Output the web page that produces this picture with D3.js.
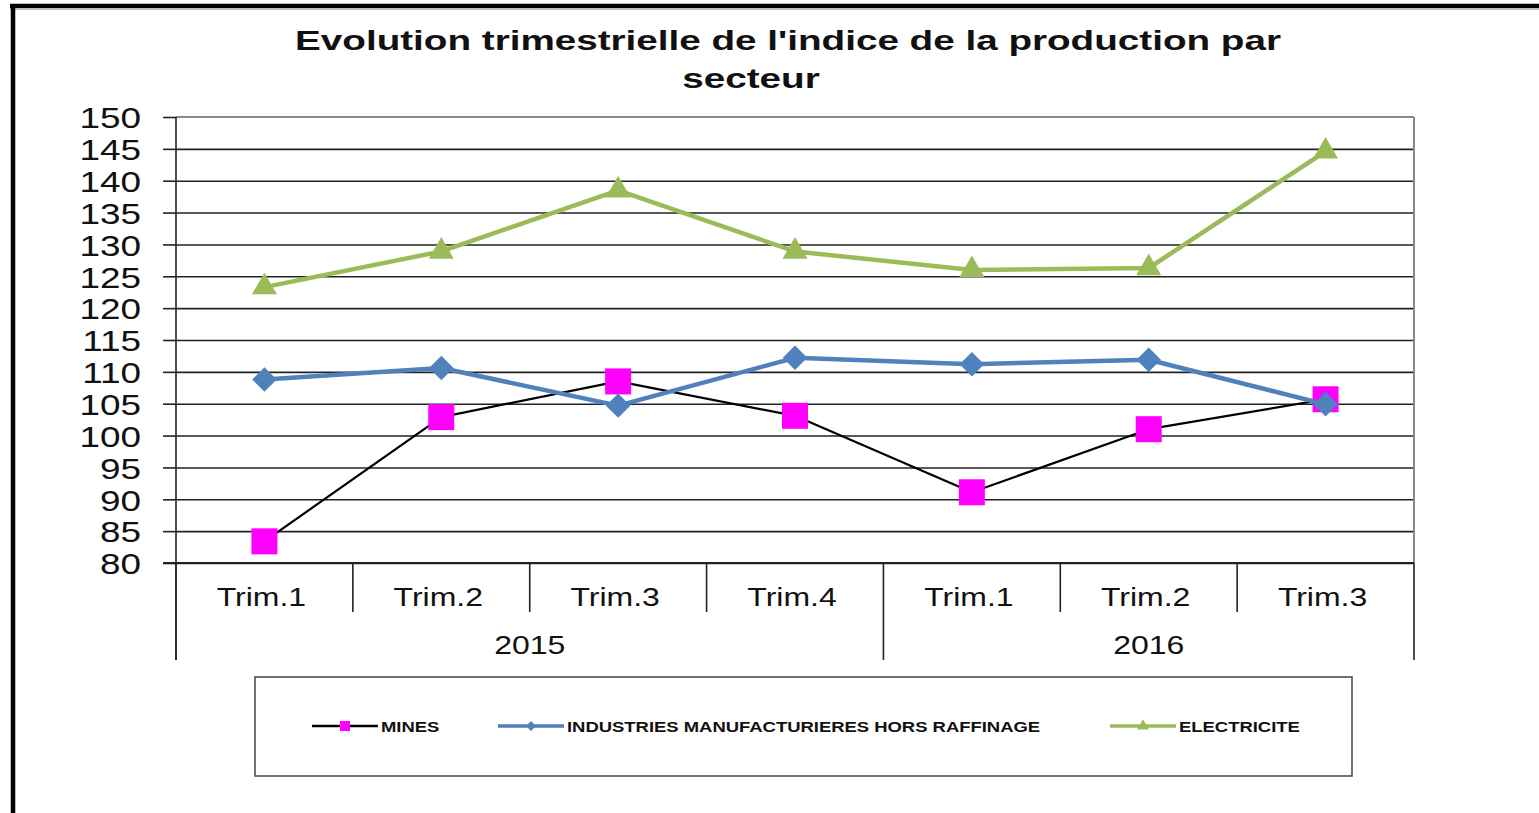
<!DOCTYPE html>
<html>
<head>
<meta charset="utf-8">
<script src="https://cdn.jsdelivr.net/npm/d3@7"></script>
<style>
	body { margin: 0; background: #fff; }
	svg { display: block; font-family: "Liberation Sans", Arial, sans-serif; }
	.grid line { stroke: #222; stroke-width: 1.6; }
	.grid path { display: none; }
	.axis-y path { display: none; }
	.axis-y line { stroke: #222; stroke-width: 1.6; }
	.axis-y text { font-size: 30px; fill: #111; }
</style>
</head>
<body>
<div id="chart"></div>
<script>

var quarters = ['Trim.1', 'Trim.2', 'Trim.3', 'Trim.4', 'Trim.1', 'Trim.2', 'Trim.3']
var quarterYears = ['2015', '2015', '2015', '2015', '2016', '2016', '2016']
var years = ['2015', '2016']
var yTicks = [80, 85, 90, 95, 100, 105, 110, 115, 120, 125, 130, 135, 140, 145, 150]

var mines = [83.4, 102.9, 108.5, 103.1, 91.1, 101.0, 105.7]
var industries = [108.8, 110.6, 104.7, 112.2, 111.2, 111.9, 104.9]
var electricite = [123.3, 128.9, 138.5, 128.9, 126.0, 126.3, 144.6]

var seriesNames = ['MINES', 'INDUSTRIES MANUFACTURIERES HORS RAFFINAGE', 'ELECTRICITE']
var titleLines = ["Evolution trimestrielle de l'indice de la production par", 'secteur']

// the picture is stretched sideways, so texts get a sideways stretch too
var sx = 1.23
var titleSx = 1.38

var W = 1539
var H = 813
var plot = { left: 176, right: 1414, top: 117, bottom: 563 }

var keys = quarters.map(function(q, i) { return quarterYears[i] + '-' + i })

var x = d3.scaleBand()
	.domain(keys)
	.range([plot.left, plot.right])

var y = d3.scaleLinear()
	.domain([80, 150])
	.range([plot.bottom, plot.top])

var svg = d3.select('#chart')
	.append('svg')
	.attr('width', W)
	.attr('height', H)

// outer frame
svg.append('line')
	.attr('x1', 10).attr('x2', W).attr('y1', 6).attr('y2', 6)
	.attr('stroke', '#000').attr('stroke-width', 4.5)
svg.append('line')
	.attr('x1', 10).attr('x2', W).attr('y1', 9.5).attr('y2', 9.5)
	.attr('stroke', '#bbb').attr('stroke-width', 1)
svg.append('line')
	.attr('x1', 13).attr('x2', 13).attr('y1', 4).attr('y2', H)
	.attr('stroke', '#000').attr('stroke-width', 4.5)

var stretchText = function(sel, px, py, k) {
	return sel.append('g')
		.attr('transform', 'translate(' + px + ',' + py + ')')
		.append('text')
		.attr('transform', 'scale(' + (k || sx) + ',1)')
}

// title
var titleX = [788, 751]
var titleY = [50, 88]
titleLines.forEach(function(t, i) {
	stretchText(svg, titleX[i], titleY[i], titleSx)
		.attr('text-anchor', 'middle')
		.attr('font-size', 28)
		.attr('font-weight', 'bold')
		.attr('fill', '#111')
		.text(t)
})

// grid
svg.append('g')
	.attr('class', 'grid')
	.attr('transform', 'translate(' + plot.left + ',0)')
	.call(d3.axisLeft(y).tickValues(yTicks.slice(0, -1)).tickSize(-(plot.right - plot.left)).tickFormat(''))

// plot frame top and right
svg.append('line')
	.attr('x1', plot.left).attr('x2', plot.right).attr('y1', plot.top).attr('y2', plot.top)
	.attr('stroke', '#888').attr('stroke-width', 2)
svg.append('line')
	.attr('x1', plot.right).attr('x2', plot.right).attr('y1', plot.top).attr('y2', plot.bottom)
	.attr('stroke', '#888').attr('stroke-width', 2)

// y axis
var axisY = svg.append('g')
	.attr('class', 'axis-y')
	.attr('transform', 'translate(' + plot.left + ',0)')
	.call(d3.axisLeft(y).tickValues(yTicks).tickSize(13))

axisY.selectAll('text')
	.attr('x', -35 / sx)
	.attr('dy', '0.36em')
	.attr('transform', 'scale(' + sx + ',1)')

svg.append('line')
	.attr('x1', plot.left).attr('x2', plot.left).attr('y1', plot.top).attr('y2', 660)
	.attr('stroke', '#222').attr('stroke-width', 1.6)

// category axis, two levels
var catAxis = svg.append('g').attr('class', 'cat-axis')

keys.forEach(function(k, i) {
	var left = x(k)
	var newYear = i === 0 || quarterYears[i] !== quarterYears[i - 1]
	catAxis.append('line')
		.attr('x1', left).attr('x2', left)
		.attr('y1', plot.bottom).attr('y2', newYear ? 660 : 612)
		.attr('stroke', '#222').attr('stroke-width', 1.6)

	stretchText(catAxis, left + x.bandwidth() / 2 - 3, 606)
		.attr('text-anchor', 'middle')
		.attr('font-size', 26)
		.attr('fill', '#111')
		.text(quarters[i])
})

catAxis.append('line')
	.attr('x1', plot.right).attr('x2', plot.right)
	.attr('y1', plot.bottom).attr('y2', 660)
	.attr('stroke', '#222').attr('stroke-width', 1.6)

years.forEach(function(yr) {
	var idx = keys.filter(function(k) { return k.indexOf(yr) === 0 })
	var x0 = x(idx[0])
	var x1 = x(idx[idx.length - 1]) + x.bandwidth()
	stretchText(catAxis, (x0 + x1) / 2, 654)
		.attr('text-anchor', 'middle')
		.attr('font-size', 26)
		.attr('fill', '#111')
		.text(yr)
})

svg.append('line')
	.attr('x1', plot.left - 13).attr('x2', plot.right).attr('y1', plot.bottom).attr('y2', plot.bottom)
	.attr('stroke', '#222').attr('stroke-width', 1.8)

// series
var series = [
	{ name: seriesNames[0], values: mines, stroke: '#000', width: 2.2, fill: '#ff00ff', symbol: d3.symbolSquare, size: 676, rotate: 0 },
	{ name: seriesNames[1], values: industries, stroke: '#4f81bd', width: 4.5, fill: '#4f81bd', symbol: d3.symbolSquare, size: 300, rotate: 45 },
	{ name: seriesNames[2], values: electricite, stroke: '#9bbb59', width: 4.5, fill: '#9bbb59', symbol: d3.symbolTriangle, size: 270, rotate: 0 }
]

var line = d3.line()
	.x(function(d, i) { return x(keys[i]) + x.bandwidth() / 2 })
	.y(function(d) { return y(d) })

series.forEach(function(s) {
	var g = svg.append('g').attr('class', 'series')

	g.append('path')
		.attr('d', line(s.values))
		.attr('fill', 'none')
		.attr('stroke', s.stroke)
		.attr('stroke-width', s.width)
		.attr('stroke-linejoin', 'round')

	g.selectAll('path.marker')
		.data(s.values)
		.enter().append('path')
		.attr('class', 'marker')
		.attr('d', d3.symbol().type(s.symbol).size(s.size))
		.attr('fill', s.fill)
		.attr('transform', function(d, i) {
			return 'translate(' + (x(keys[i]) + x.bandwidth() / 2) + ',' + y(d) + ') rotate(' + s.rotate + ')'
		})
})

// legend
var legend = svg.append('g').attr('class', 'legend')

legend.append('rect')
	.attr('x', 255).attr('y', 677)
	.attr('width', 1097).attr('height', 99)
	.attr('fill', 'none')
	.attr('stroke', '#444')
	.attr('stroke-width', 1.5)

var legendX = [312, 498, 1110]
var legendY = 726
var legendSize = [100, 50, 60]

series.forEach(function(s, i) {
	var lx = legendX[i]
	legend.append('line')
		.attr('x1', lx).attr('x2', lx + 66)
		.attr('y1', legendY).attr('y2', legendY)
		.attr('stroke', s.stroke)
		.attr('stroke-width', i === 0 ? 2.5 : 3.5)
	legend.append('path')
		.attr('d', d3.symbol().type(s.symbol).size(legendSize[i]))
		.attr('fill', s.fill)
		.attr('transform', 'translate(' + (lx + 33) + ',' + legendY + ') rotate(' + s.rotate + ')')
	stretchText(legend, lx + 69, legendY + 6)
		.attr('font-size', 15)
		.attr('font-weight', 'bold')
		.attr('fill', '#111')
		.text(s.name)
})

</script>
</body>
</html>
